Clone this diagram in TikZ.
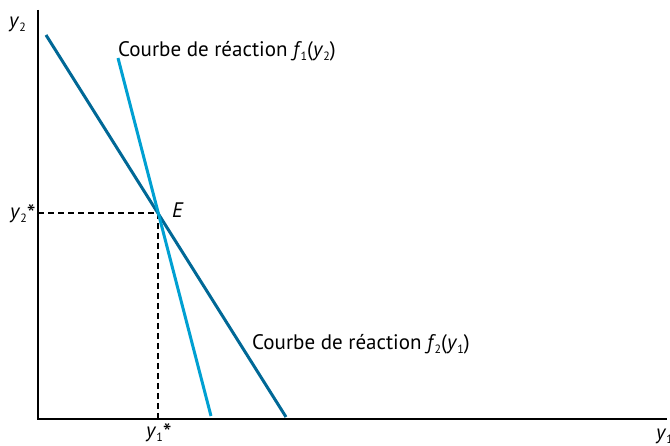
\documentclass[tikz,border=0pt]{standalone}
\usepackage{fontspec}
\setmainfont{PT Sans}
\usetikzlibrary{calc}
\definecolor{darkb}{RGB}{0,104,150}
\definecolor{lightb}{RGB}{0,160,210}
\newcommand\sbs[1]{\raisebox{-0.3ex}{\fontsize{12}{12}\selectfont #1}}
\newcommand\myast{\raisebox{-0.3ex}[0.7em][0pt]{\fontsize{25}{25}\selectfont *}}
\tikzset{
  axis/.style={line width=1.5pt, black},
  curveA/.style={line width=3pt, darkb},
  curveB/.style={line width=3pt, lightb},
  guide/.style={line width=1.4pt, black, dash pattern=on 6pt off 4pt},
  lbl/.style={font=\fontsize{21}{24}\selectfont, inner sep=0pt}
}
\begin{document}
\begin{tikzpicture}[x=1pt,y=1pt]
\useasboundingbox (0,0) rectangle (670,446);
% axes (y_tikz = 446 - y_img)
\coordinate (O) at (38,27);
\coordinate (top) at (38,436);
\coordinate (right) at (667,27);
\draw[axis] (top) -- (O) -- (right);
% equilibrium
\coordinate (E) at (158,233);
\coordinate (Ey) at (38,233);
\coordinate (Ex) at (158,27);
\draw[guide] (Ey) -- (E) -- (Ex);
% curves
\coordinate (a1) at (46,411);
\coordinate (a2) at (286,29);
\coordinate (b1) at (118,388);
\coordinate (b2) at (211,30);
\draw[curveA] (a1) -- (a2);
\draw[curveB] (b1) -- (b2);
% labels
\node[lbl, anchor=base west] (ly2) at (9,418) {\textit{y}\sbs{2}};
\node[lbl, anchor=base west] (lf1) at (118,389) {Courbe de réaction \textit{f}\kern-1.5pt\sbs{1}(\textit{y}\sbs{2})};
\node[lbl, anchor=base west] (lf2) at (252,96) {Courbe de réaction \textit{f}\kern-1.5pt\sbs{2}(\textit{y}\sbs{1})};
\node[lbl, anchor=base west] (lE) at (172,228) {\textit{E}};
\node[lbl, anchor=base west] (ly2s) at (10,227) {\textit{y}\sbs{2}\myast};
\node[lbl, anchor=base west] (ly1s) at (146,8) {\textit{y}\sbs{1}\myast};
\node[lbl, anchor=base west] (ly1) at (656,6) {\textit{y}\sbs{1}};
\end{tikzpicture}
\end{document}
